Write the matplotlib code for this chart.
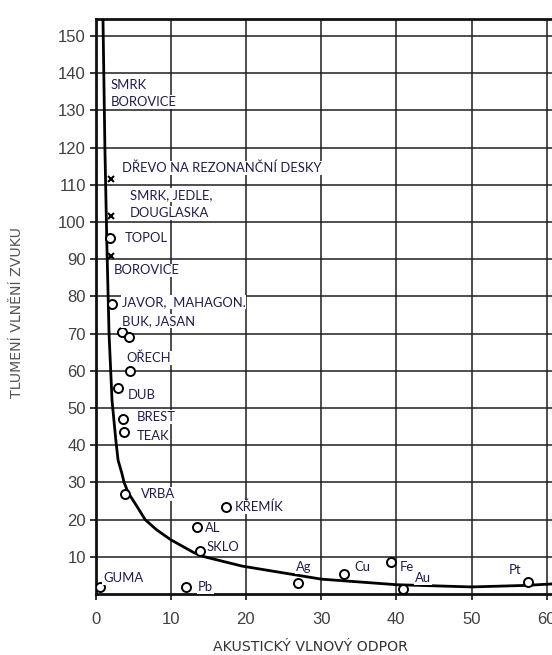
import matplotlib
matplotlib.use("Agg")
import matplotlib.pyplot as plt

# krivka
curve_x = [1.0, 1.25, 1.5, 1.8, 2.2, 2.7, 3.0, 3.5, 3.8, 4.36, 5.5, 6.6, 8.1,
           10.0, 13.1, 14.5, 19.5, 24.9, 30.0, 40.0, 50.0, 57.0, 60.7]
curve_y = [154, 120, 95, 70, 52, 41.4, 36, 32.5, 30, 27.2, 23.6, 20, 17.3,
           14.6, 11.1, 10, 7.5, 5.7, 4.0, 2.5, 1.9, 2.3, 2.7]

# materialy - kolecka
circ_x = [1.9, 2.2, 3.5, 4.5, 4.6, 3.0, 3.6, 3.8, 3.9, 17.4, 13.5, 13.9,
          0.6, 12.1, 26.9, 33.0, 39.3, 40.9, 57.5]
circ_y = [95.7, 78, 70.5, 69.2, 60, 55.5, 47, 43.5, 27, 23.3, 18, 11.6,
          2, 2, 3, 5.3, 8.7, 1.3, 3.3]

# drevo na rezonancni desky - krizky
cross_x = [2.06, 2.06, 2.1]
cross_y = [111.7, 101.6, 91]

labels = ["SMRK", "BOROVICE", "DŘEVO NA REZONANČNÍ DESKY", "SMRK, JEDLE,",
          "DOUGLASKA", "TOPOL", "BOROVICE", "JAVOR,  MAHAGON.", "BUK, JASAN",
          "OŘECH", "DUB", "BREST", "TEAK", "VRBA", "KŘEMÍK", "AL", "SKLO",
          "GUMA", "Pb", "Ag", "Cu", "Fe", "Au", "Pt"]
label_x = [2.0, 2.0, 3.5, 4.6, 4.6, 3.9, 2.4, 3.5, 3.5, 4.1, 4.3, 5.5, 5.5,
           6.1, 18.5, 14.6, 14.8, 1.0, 13.6, 26.6, 34.4, 40.5, 42.5, 54.9]
label_y = [136.8, 132.3, 114.5, 107.3, 102.4, 95.7, 87, 78.5, 73.4, 63.4,
           53.5, 47.6, 42.5, 26.9, 23.4, 17.7, 12.6, 4.3, 1.9, 7.3, 7.3, 7.3,
           4.3, 6.5]

fig = plt.figure(figsize=(5.52, 6.55), dpi=100)
ax = fig.add_axes([95.5 / 552, 61 / 655, 1 - 95.5 / 552, 575 / 655])

ax.set_xlim(0, 60.7)
ax.set_ylim(0, 154.6)
ax.set_xticks(range(0, 61, 10))
ax.set_yticks(range(10, 151, 10))
ax.grid(True, color="#1e1e1e", linewidth=1.1)
ax.set_axisbelow(True)

for s in ["left", "bottom", "top"]:
    ax.spines[s].set_linewidth(2)
    ax.spines[s].set_color("#111111")
ax.spines["right"].set_visible(False)

ax.tick_params(axis="both", colors="#111111", labelcolor="#404040",
               length=4, width=1.2)
ax.tick_params(axis="x", pad=9)
ax.tick_params(axis="y", pad=3)
for lab in ax.get_xticklabels() + ax.get_yticklabels():
    lab.set_family("Liberation Sans")
    lab.set_fontsize(12)

ax.plot(curve_x, curve_y, color="black", linewidth=2, zorder=3)
ax.plot(circ_x, circ_y, linestyle="none", marker="o", markersize=6.5,
        markerfacecolor="white", markeredgecolor="black",
        markeredgewidth=1.4, zorder=4)
ax.plot(cross_x, cross_y, linestyle="none", marker="x", markersize=5,
        color="black", markeredgewidth=1.5, zorder=4)

for t, lx, ly in zip(labels, label_x, label_y):
    ax.text(lx, ly, t, fontsize=9.4, family="Lato", color="#1f1a52",
            ha="left", va="center", zorder=5,
            bbox=dict(facecolor="white", edgecolor="none", pad=0.6))

fig.text(17 / 552, 1 - 312 / 655, "TLUMENÍ VLNĚNÍ ZVUKU", rotation=90,
         ha="center", va="center", fontsize=10.2, color="#555555")
fig.text(310 / 552, 1 - 647 / 655, "AKUSTICKÝ VLNOVÝ ODPOR",
         ha="center", va="center", fontsize=10.2, color="#333333")

fig.savefig("out.png", dpi=100)
